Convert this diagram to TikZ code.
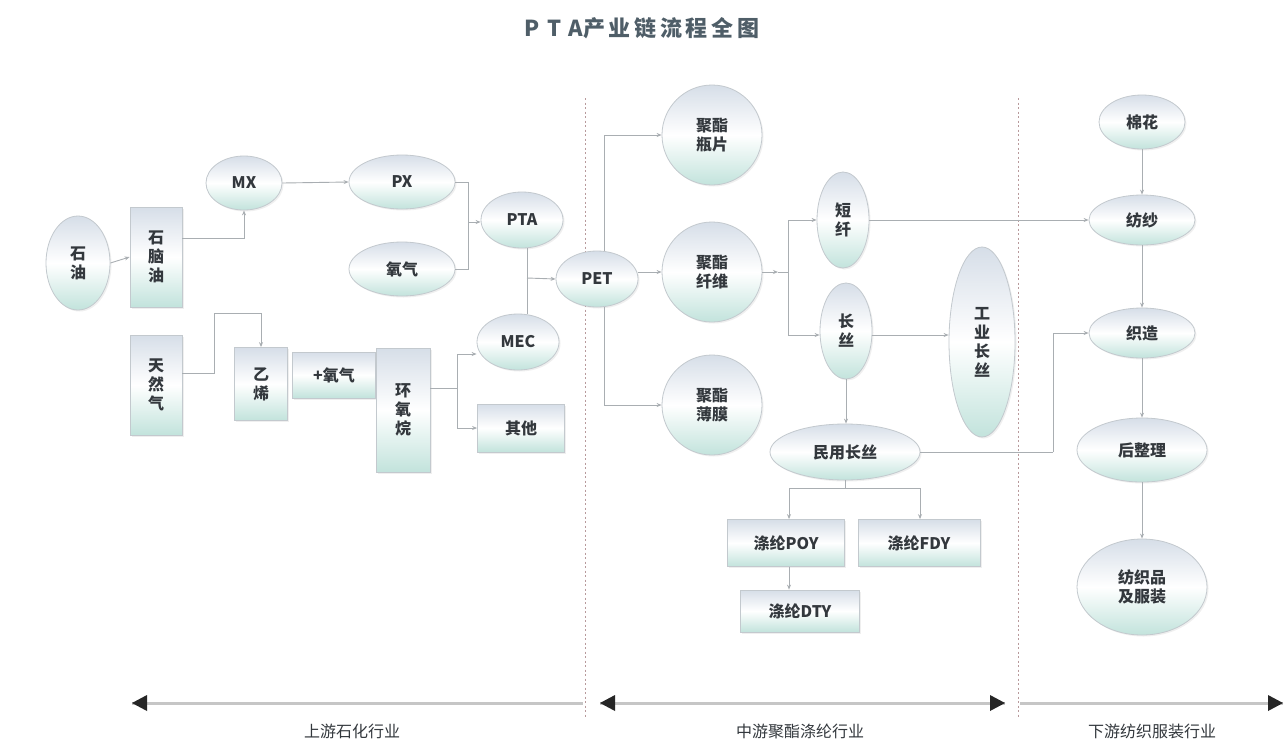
\documentclass[tikz,border=0pt]{standalone}
\usepackage{fontspec}
\setmainfont{Noto Sans CJK SC}
\usetikzlibrary{shapes.geometric,arrows.meta,shadows}
\definecolor{txt}{HTML}{33383D}
\definecolor{topc}{HTML}{D6DEE8}
\definecolor{botc}{HTML}{C2E3DC}
\definecolor{edgec}{HTML}{C3C9CE}
\definecolor{linec}{HTML}{A9AEB2}
\definecolor{dashc}{HTML}{B89A9C}
\definecolor{titlec}{HTML}{4F5E68}
\tikzset{
  base/.style={text=txt, font=\fontsize{16}{19}\selectfont\bfseries, align=center, inner sep=0pt,
    top color=topc, bottom color=botc, middle color=white, draw=edgec, line width=0.8pt,
    drop shadow={opacity=0.12, shadow xshift=1.5pt, shadow yshift=-1.5pt}},
  ell/.style={base, ellipse},
  box/.style={base, rectangle},
  conn/.style={draw=linec, line width=0.9pt, -{Stealth[length=5pt,width=4pt]}},
  plain/.style={draw=linec, line width=0.9pt},
  divider/.style={draw=dashc, line width=1pt, dash pattern=on 2pt off 2.5pt},
  axis/.style={draw=gray!45, line width=3pt},
  tip/.style={fill=black!85},
  lab/.style={text=txt, font=\fontsize{16}{19}\selectfont}
}
\begin{document}
\begin{tikzpicture}[x=1pt,y=-1pt]
\fill[white] (0,0) rectangle (1284,745);
\useasboundingbox (0,0) rectangle (1284,745);

% title
\node[text=titlec, font=\fontsize{22}{25}\selectfont\bfseries] (title) at (642,28) {P\,\,T\,\,A产\,业\,链\,流\,程\,全\,图};

% dividers
\draw[divider] (585,98) coordinate (d1t) -- (585,718) coordinate (d1b);
\draw[divider] (1018,98) coordinate (d2t) -- (1018,718) coordinate (d2b);

% upstream nodes
\node[ell, minimum width=64pt, minimum height=94pt] (oil) at (78,263) {石\\油};
\node[box, minimum width=52pt, minimum height=100pt] (naph) at (156,257) {石\\脑\\油};
\node[ell, minimum width=76pt, minimum height=54pt] (mx) at (244,183) {MX};
\node[ell, minimum width=106pt, minimum height=54pt] (px) at (402,182) {PX};
\node[ell, minimum width=106pt, minimum height=54pt] (o2) at (402,269) {氧气};
\node[ell, minimum width=82pt, minimum height=56pt] (pta) at (522,220) {PTA};
\node[ell, minimum width=82pt, minimum height=56pt] (mec) at (518,342) {MEC};
\node[ell, minimum width=82pt, minimum height=56pt] (pet) at (597,279) {PET};
\node[box, minimum width=52pt, minimum height=100pt] (gas) at (156,385) {天\\然\\气};
\node[box, minimum width=53pt, minimum height=73pt] (eth) at (261,384) {乙\\烯};
\node[box, minimum width=83pt, minimum height=46pt] (ox2) at (334,375) {+氧气};
\node[box, minimum width=54pt, minimum height=124pt] (eo) at (403,410) {环\\氧\\烷};
\node[box, minimum width=87pt, minimum height=48pt] (other) at (521,428) {其他};

% midstream nodes
\node[ell, minimum width=100pt, minimum height=100pt] (bottle) at (712,135) {聚酯\\瓶片};
\node[ell, minimum width=100pt, minimum height=100pt] (fiber) at (712,272) {聚酯\\纤维};
\node[ell, minimum width=100pt, minimum height=100pt] (film) at (712,405) {聚酯\\薄膜};
\node[ell, minimum width=52pt, minimum height=96pt] (staple) at (843,220) {短\\纤};
\node[ell, minimum width=52pt, minimum height=96pt] (fil) at (846,331) {长\\丝};
\node[ell, minimum width=66pt, minimum height=190pt] (ind) at (982,342) {工\\业\\长\\丝};
\node[ell, minimum width=150pt, minimum height=56pt] (civ) at (845,452) {民用长丝};
\node[box, minimum width=117pt, minimum height=47pt] (poy) at (786,543) {涤纶POY};
\node[box, minimum width=122pt, minimum height=47pt] (fdy) at (919,543) {涤纶FDY};
\node[box, minimum width=119pt, minimum height=42pt] (dty) at (800,611) {涤纶DTY};

% downstream nodes
\node[ell, minimum width=86pt, minimum height=54pt] (cotton) at (1142,122) {棉花};
\node[ell, minimum width=106pt, minimum height=50pt] (spin) at (1142,220) {纺纱};
\node[ell, minimum width=106pt, minimum height=50pt] (weave) at (1142,333) {织造};
\node[ell, minimum width=130pt, minimum height=64pt] (finish) at (1142,450) {后整理};
\node[ell, minimum width=130pt, minimum height=96pt] (cloth) at (1142,587) {纺织品\\及服装};

% upstream connectors
\draw[conn] (oil.east) -- (naph.west);
\draw[conn] (naph.east |- 0,238) -| (mx.south);
\draw[conn] (mx.east) -- (px.west);
\coordinate (j1) at (468,222);
\draw[plain] (px.east) -| (j1);
\draw[plain] (o2.east) -| (j1);
\draw[conn] (j1) -- (pta.west |- j1);
\coordinate (j2) at (527,278);
\draw[plain] (pta.south -| j2) -- (mec.north -| j2);
\draw[conn] (j2) -- (pet.west);
\coordinate (g1) at (214,313);
\draw[plain] (gas.east |- 0,373) -| (g1);
\draw[conn] (g1) -| (eth.north);
\coordinate (e1) at (457,388);
\draw[plain] (eo.east |- e1) -- (e1);
\draw[conn] (e1) |- (mec.west |- 0,354);
\draw[conn] (e1) |- (other.west);

% midstream connectors
\coordinate (p1) at (604,272);
\draw[conn] (pet.east |- p1) -- (fiber.west);
\draw[conn] (pet.north -| p1) |- (bottle.west);
\draw[conn] (pet.south -| p1) |- (film.west);
\coordinate (f1) at (788,272);
\draw[conn] (fiber.east) -- (778,272);
\draw[plain] (778,272) -- (f1);
\draw[conn] (f1) |- (staple.west);
\draw[conn] (f1) |- (fil.west |- 0,335);
\draw[conn] (staple.east) -- (spin.west);
\draw[conn] (fil.east |- 0,335) -- (ind.west |- 0,335);
\draw[conn] (fil.south) -- (civ.north -| fil.south);
\coordinate (w1) at (1053,452);
\draw[plain] (civ.east) -- (w1);
\draw[conn] (w1) |- (weave.west);
\coordinate (c1) at (845,488);
\draw[plain] (civ.south) -- (c1);
\draw[plain] (789,488) -- (920,488);
\draw[conn] (789,488) -- (poy.north -| 789,0);
\draw[conn] (920,488) -- (fdy.north -| 920,0);
\draw[conn] (poy.south -| 789,0) -- (dty.north -| 789,0);

% downstream connectors
\draw[conn] (cotton.south) -- (spin.north);
\draw[conn] (spin.south) -- (weave.north);
\draw[conn] (weave.south) -- (finish.north);
\draw[conn] (finish.south) -- (cloth.north);

% bottom axis
\coordinate (a1) at (132,703); \coordinate (a2) at (583,703);
\coordinate (a3) at (600,703); \coordinate (a4) at (1005,703);
\coordinate (a5) at (1020,703); \coordinate (a6) at (1283,703);
\draw[axis] (a1) -- (a2);
\draw[axis] (a3) -- (a4);
\draw[axis] (a5) -- (a6);
\fill[tip] (a1) -- ++(15,-8) -- ++(0,16) -- cycle;
\fill[tip] (a3) -- ++(15,-8) -- ++(0,16) -- cycle;
\fill[tip] (a4) -- ++(-15,-8) -- ++(0,16) -- cycle;
\fill[tip] (a6) -- ++(-15,-8) -- ++(0,16) -- cycle;
\node[lab] (l1) at (352,731) {上游石化行业};
\node[lab] (l2) at (800,731) {中游聚酯涤纶行业};
\node[lab] (l3) at (1152,731) {下游纺织服装行业};
\end{tikzpicture}
\end{document}
